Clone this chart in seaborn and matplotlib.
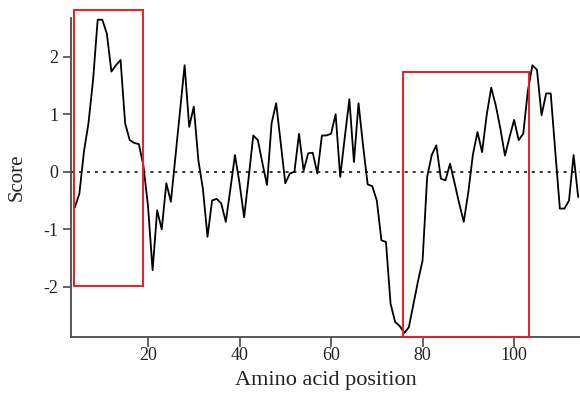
import matplotlib
matplotlib.use("Agg")
import matplotlib.pyplot as plt
from matplotlib.patches import Rectangle
import seaborn as sns

# hydrophobicity score per residue
positions = list(range(4, 115))
scores = [
    -0.62, -0.38, 0.35, 0.85, 1.60, 2.64, 2.64, 2.40, 1.74, 1.85,   # 4-13
    1.94, 0.84, 0.55, 0.50, 0.48, 0.10, -0.60, -1.71, -0.67, -1.00,  # 14-23
    -0.20, -0.52, 0.27, 1.06, 1.85, 0.78, 1.13, 0.20, -0.30, -1.13,  # 24-33
    -0.50, -0.47, -0.55, -0.87, -0.30, 0.29, -0.20, -0.79, -0.10, 0.63,  # 34-43
    0.55, 0.15, -0.23, 0.84, 1.19, 0.50, -0.20, -0.03, 0.00, 0.66,   # 44-53
    0.02, 0.32, 0.33, -0.03, 0.63, 0.63, 0.66, 1.00, -0.09, 0.60,    # 54-63
    1.26, 0.17, 1.19, 0.45, -0.22, -0.25, -0.50, -1.19, -1.22, -2.29,  # 64-73
    -2.61, -2.68, -2.80, -2.70, -2.30, -1.90, -1.54, -0.09, 0.29, 0.46,  # 74-83
    -0.12, -0.15, 0.14, -0.20, -0.55, -0.87, -0.35, 0.30, 0.69, 0.34,  # 84-93
    0.98, 1.46, 1.15, 0.75, 0.28, 0.60, 0.90, 0.55, 0.66, 1.40,      # 94-103
    1.85, 1.77, 0.98, 1.36, 1.36, 0.35, -0.64, -0.64, -0.50, 0.29,   # 104-113
    -0.44,                                                          # 114
]

x_ticks = [20, 40, 60, 80, 100]
y_ticks = [-2, -1, 0, 1, 2]
y_tick_labels = ["-2", "-1", "0", "1", "2"]

# highlighted regions: (x start, x end, y bottom, y top)
box_x = [(3.8, 19.0), (75.7, 103.3)]
box_y = [(-1.98, 2.81), (-2.87, 1.73)]

sns.set_theme(style="ticks")
plt.rcParams["font.family"] = ["Liberation Serif", "DejaVu Serif"]

fig = plt.figure(figsize=(5.8, 3.96), dpi=100)
ax = fig.add_axes([71 / 580, (396 - 337) / 396, (580 - 71) / 580, (337 - 18) / 396])

sns.lineplot(x=positions, y=scores, color="black", linewidth=1.3, ax=ax)
ax.axhline(0, color="black", linestyle=(0, (2, 3.2)), linewidth=1.1)

for (x0, x1), (y0, y1) in zip(box_x, box_y):
    ax.add_patch(Rectangle((x0, y0), x1 - x0, y1 - y0, fill=False,
                           edgecolor="#ee1c1c", linewidth=1.4,
                           clip_on=False, zorder=3))

ax.set_xlim(3.17, 114.4)
ax.set_ylim(-2.87, 2.67)
ax.set_xticks(x_ticks)
ax.set_yticks(y_ticks)
ax.set_yticklabels(y_tick_labels)

sns.despine(ax=ax)
for side in ["left", "bottom"]:
    ax.spines[side].set_color("#4a4a4a")
    ax.spines[side].set_linewidth(1.3)
ax.tick_params(axis="both", direction="out", length=6, width=1.2,
               color="#4a4a4a", labelsize=13, labelcolor="#222222", pad=3)
ax.tick_params(axis="x", length=7, pad=0.5)

ax.set_xlabel("Amino acid position", fontsize=16, color="#222222", labelpad=5)
ax.set_ylabel("Score", fontsize=15, color="#222222", labelpad=12)

fig.savefig("out.png", dpi=100)
